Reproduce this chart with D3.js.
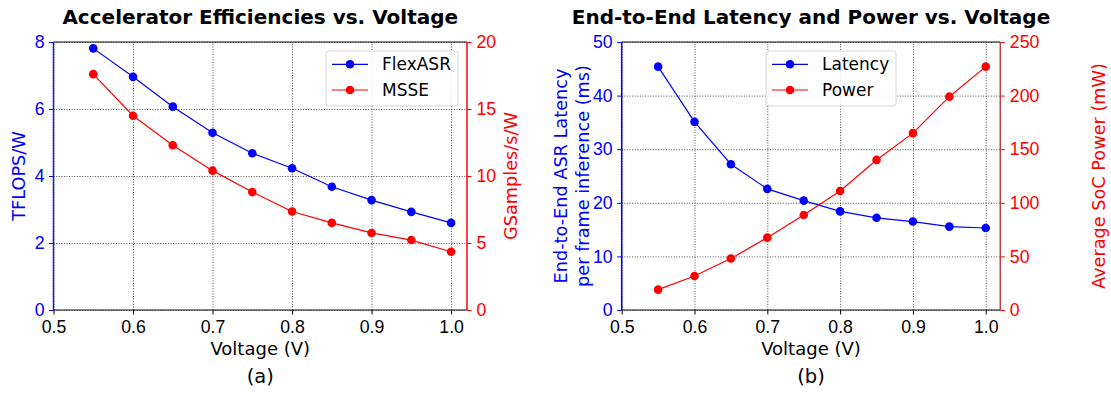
<!DOCTYPE html>
<html>
<head>
<meta charset="utf-8">
<script src="https://cdn.jsdelivr.net/npm/d3@7"></script>
<style>
  body { margin: 0; background: #fff; }
  svg { font-family: "DejaVu Sans", sans-serif; }
  .grid line { stroke: #222; stroke-width: 0.8; stroke-dasharray: 1,1.6; }
  .grid path { display: none; }
</style>
</head>
<body>
<svg id="chart" width="1111" height="394"></svg>
<script>
// voltages shared by both panels
const voltage = [0.55, 0.6, 0.65, 0.7, 0.75, 0.8, 0.85, 0.9, 0.95, 1.0];

// panel (a)
const flexasr = [7.81, 6.96, 6.07, 5.29, 4.68, 4.23, 3.68, 3.28, 2.93, 2.60];
const msse = [17.6, 14.5, 12.3, 10.4, 8.8, 7.35, 6.5, 5.75, 5.22, 4.35];

// panel (b)
const latency = [45.4, 35.1, 27.2, 22.6, 20.4, 18.4, 17.2, 16.5, 15.55, 15.3];
const power = [19, 31.7, 48, 67.5, 88.6, 111, 140, 165, 199, 227];

const xTicks = [0.5, 0.6, 0.7, 0.8, 0.9, 1.0];

const svg = d3.select("#chart");
const plotTop = 42, plotBottom = 310;
const FS = 17.7;   // ticks + axis labels
const LFS = 17;    // legend

function panel(opt) {
  const x = d3.scaleLinear().domain([0.5, 1.02]).range([opt.x0, opt.x1]);
  const yL = d3.scaleLinear().domain(opt.leftDomain).range([plotBottom, plotTop]);
  const yR = d3.scaleLinear().domain(opt.rightDomain).range([plotBottom, plotTop]);
  const g = svg.append("g");

  // grid
  g.append("g").attr("class", "grid")
    .attr("transform", `translate(0,${plotBottom})`)
    .call(d3.axisBottom(x).tickValues(xTicks).tickSize(-(plotBottom - plotTop)).tickFormat(""));
  g.append("g").attr("class", "grid")
    .attr("transform", `translate(${opt.x0},0)`)
    .call(d3.axisLeft(yL).tickValues(opt.leftTicks).tickSize(-(opt.x1 - opt.x0)).tickFormat(""));

  // axes
  const ax = g.append("g")
    .attr("transform", `translate(0,${plotBottom})`)
    .call(d3.axisBottom(x).tickValues(xTicks).tickSize(4.5).tickPadding(5.5).tickFormat(d3.format(".1f")));
  ax.select(".domain").remove();
  ax.selectAll("line").attr("stroke", "#000");
  ax.selectAll("text").attr("fill", "#000").style("font-size", FS + "px");

  const al = g.append("g")
    .attr("transform", `translate(${opt.x0},0)`)
    .call(d3.axisLeft(yL).tickValues(opt.leftTicks).tickSize(4.5).tickPadding(4.5).tickFormat(d3.format("d")));
  al.select(".domain").remove();
  al.selectAll("line").attr("stroke", "blue");
  al.selectAll("text").attr("fill", "blue").style("font-size", FS + "px");

  const ar = g.append("g")
    .attr("transform", `translate(${opt.x1},0)`)
    .call(d3.axisRight(yR).tickValues(opt.rightTicks).tickSize(4.5).tickPadding(5).tickFormat(d3.format("d")));
  ar.select(".domain").remove();
  ar.selectAll("line").attr("stroke", "red");
  ar.selectAll("text").attr("fill", "red").style("font-size", FS + "px");

  // spines
  g.append("line").attr("x1", opt.x0).attr("x2", opt.x1).attr("y1", plotTop).attr("y2", plotTop)
    .attr("stroke", "#111").attr("stroke-width", 1.2);
  g.append("line").attr("x1", opt.x0).attr("x2", opt.x1).attr("y1", plotBottom).attr("y2", plotBottom)
    .attr("stroke", "#111").attr("stroke-width", 1.2);
  g.append("line").attr("x1", opt.x0).attr("x2", opt.x0).attr("y1", plotTop).attr("y2", plotBottom)
    .attr("stroke", opt.leftSpine).attr("stroke-width", 1.5);
  g.append("line").attr("x1", opt.x1).attr("x2", opt.x1).attr("y1", plotTop).attr("y2", plotBottom)
    .attr("stroke", opt.rightSpine).attr("stroke-width", 1.5);

  // series
  const series = [
    { vals: opt.leftVals, y: yL, color: "blue", name: opt.names[0] },
    { vals: opt.rightVals, y: yR, color: "red", name: opt.names[1] }
  ];
  series.forEach(s => {
    const pts = voltage.map((v, i) => [v, s.vals[i]]);
    g.append("path").datum(pts)
      .attr("fill", "none").attr("stroke", s.color).attr("stroke-width", 1.2)
      .attr("d", d3.line().x(d => x(d[0])).y(d => s.y(d[1])));
    g.selectAll(null).data(pts).enter().append("circle")
      .attr("cx", d => x(d[0])).attr("cy", d => s.y(d[1])).attr("r", 4.3)
      .attr("fill", s.color);
  });

  // legend
  const lg = g.append("g").attr("transform", `translate(${opt.legendX},51)`);
  lg.append("rect").attr("width", opt.legendW).attr("height", 55).attr("rx", 3)
    .attr("fill", "rgba(255,255,255,0.85)").attr("stroke", "#d6d6d6");
  series.forEach((s, i) => {
    const yy = 13.3 + i * 25.7;
    lg.append("line").attr("x1", 6).attr("x2", 42).attr("y1", yy).attr("y2", yy)
      .attr("stroke", s.color).attr("stroke-width", 1.2);
    lg.append("circle").attr("cx", 24).attr("cy", yy).attr("r", 4.3).attr("fill", s.color);
    lg.append("text").attr("x", 56).attr("y", yy + 5.8).text(s.name)
      .style("font-size", LFS + "px").attr("fill", "#000");
  });

  const cx = (opt.x0 + opt.x1) / 2;
  svg.append("text").attr("x", cx).attr("y", 24).attr("text-anchor", "middle")
    .style("font-size", "20px").style("font-weight", "bold").text(opt.title);
  svg.append("text").attr("x", cx).attr("y", 355).attr("text-anchor", "middle")
    .style("font-size", "18px").text("Voltage (V)");
  svg.append("text").attr("x", cx).attr("y", 383).attr("text-anchor", "middle")
    .style("font-size", "19.5px").text(opt.caption);

  // y labels
  const cy = (plotTop + plotBottom) / 2;
  opt.leftLabel.forEach((t, i) => {
    svg.append("text").attr("transform", `translate(${opt.leftLabelX + i * 22},${cy}) rotate(-90)`)
      .attr("text-anchor", "middle").attr("fill", "blue").style("font-size", FS + "px").text(t);
  });
  svg.append("text").attr("transform", `translate(${opt.rightLabelX},${cy}) rotate(-90)`)
    .attr("text-anchor", "middle").attr("fill", "red").style("font-size", FS + "px").text(opt.rightLabel);
}

panel({
  x0: 53.5, x1: 467,
  leftDomain: [0, 8], leftTicks: [0, 2, 4, 6, 8],
  rightDomain: [0, 20], rightTicks: [0, 5, 10, 15, 20],
  leftVals: flexasr, rightVals: msse,
  names: ["FlexASR", "MSSE"],
  leftSpine: "#1c1ccc", rightSpine: "red",
  legendX: 326, legendW: 132,
  title: "Accelerator Efficiencies vs. Voltage",
  caption: "(a)",
  leftLabel: ["TFLOPS/W"], leftLabelX: 25,
  rightLabel: "GSamples/s/W", rightLabelX: 517
});

panel({
  x0: 621.7, x1: 1000.3,
  leftDomain: [0, 50], leftTicks: [0, 10, 20, 30, 40, 50],
  rightDomain: [0, 250], rightTicks: [0, 50, 100, 150, 200, 250],
  leftVals: latency, rightVals: power,
  names: ["Latency", "Power"],
  leftSpine: "blue", rightSpine: "#bb4040",
  legendX: 766, legendW: 130,
  title: "End-to-End Latency and Power vs. Voltage",
  caption: "(b)",
  leftLabel: ["End-to-End ASR Latency", "per frame inference (ms)"], leftLabelX: 566.5,
  rightLabel: "Average SoC Power (mW)", rightLabelX: 1105
});
</script>
</body>
</html>
